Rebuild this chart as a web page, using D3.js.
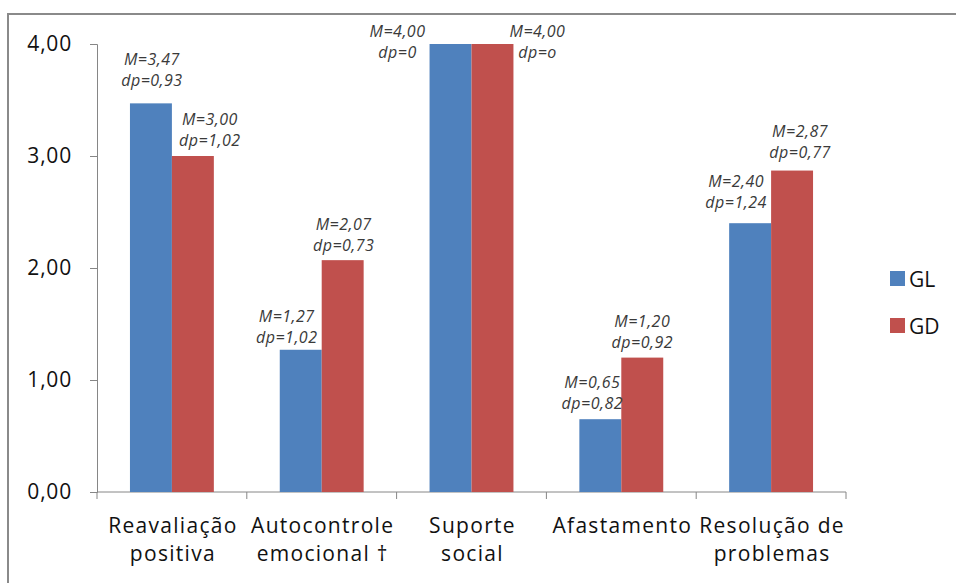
<!DOCTYPE html>
<html>
<head>
<meta charset="utf-8">
<script src="https://cdn.jsdelivr.net/npm/d3@7/dist/d3.min.js"></script>
<style>
  html, body { margin: 0; padding: 0; background: #fff; }
  svg { display: block; }
</style>
</head>
<body>
<svg id="chart" width="956" height="583"></svg>
<script>
// Coping strategy categories (two-line labels)
const categories = [
  ["Reavaliação", "positiva"],
  ["Autocontrole", "emocional †"],
  ["Suporte", "social"],
  ["Afastamento", ""],
  ["Resolução de", "problemas"]
];
const seriesNames = ["GL", "GD"];
const meanGL = [3.47, 1.27, 4.00, 0.65, 2.40];
const meanGD = [3.00, 2.07, 4.00, 1.20, 2.87];
const sdGL = ["0,93", "1,02", "0", "0,82", "1,24"];
const sdGD = ["1,02", "0,73", "o", "0,92", "0,77"];
const yTicks = [0, 1, 2, 3, 4];

// Hand placement of each annotation: offset of its centre from the bar centre,
// and baseline of its lower line relative to the bar top.
const labelDxGL = [1, -14, -53, -8, -14];
const labelDyGL = [-17, -7, 14, -10, -15];
const labelDxGD = [17, 1, 45, 0, 8];
const labelDyGD = [-10, -9, 14, -10, -13];

const colors = { GL: "#4F81BD", GD: "#C0504D" };
const axisColor = "#868686";
const font = "'Open Sans', Lato, sans-serif";

const svg = d3.select("#chart");

// Outer chart frame
svg.append("rect")
  .attr("x", 8).attr("y", 14)
  .attr("width", 960).attr("height", 600)
  .attr("fill", "none")
  .attr("stroke", "#8a8a8a").attr("stroke-width", 2);

const plot = { left: 97, right: 846, top: 44, bottom: 492 };

const x0 = d3.scaleBand()
  .domain(d3.range(categories.length))
  .range([plot.left, plot.right])
  .padding(0);
const bw = x0.bandwidth();
const x1 = d3.scaleBand()
  .domain(seriesNames)
  .range([bw * 0.22, bw * 0.78])
  .padding(0);
const y = d3.scaleLinear().domain([0, 4]).range([plot.bottom, plot.top]);

// Y axis
const yAxis = d3.axisLeft(y)
  .tickValues(yTicks)
  .tickSize(7)
  .tickPadding(18)
  .tickFormat(d => d3.format(".2f")(d).replace(".", ","));
const gy = svg.append("g")
  .attr("transform", `translate(${plot.left},0)`)
  .call(yAxis);
gy.select(".domain").attr("stroke", axisColor);
gy.selectAll(".tick line").attr("stroke", axisColor);
gy.selectAll(".tick text")
  .attr("font-family", font).attr("font-size", 21)
  .attr("letter-spacing", 0.8).attr("fill", "#111");

// X axis: ticks at category boundaries
const boundaries = d3.range(categories.length + 1).map(i => plot.left + i * bw);
const gx = svg.append("g");
gx.append("line")
  .attr("x1", plot.left).attr("x2", plot.right)
  .attr("y1", plot.bottom).attr("y2", plot.bottom)
  .attr("stroke", axisColor);
gx.selectAll("line.tk").data(boundaries).join("line")
  .attr("class", "tk")
  .attr("x1", d => d).attr("x2", d => d)
  .attr("y1", plot.bottom).attr("y2", plot.bottom + 7)
  .attr("stroke", axisColor);

// Category labels
categories.forEach((lines, i) => {
  const cx = x0(i) + bw / 2 + 1;
  const t = svg.append("text")
    .attr("text-anchor", "middle")
    .attr("font-family", font).attr("font-size", 21)
    .attr("letter-spacing", 1.3).attr("fill", "#111");
  t.append("tspan").attr("x", cx).attr("y", 533).text(lines[0]);
  if (lines[1]) t.append("tspan").attr("x", cx).attr("y", 561).text(lines[1]);
});

// Bars
const rows = categories.map((c, i) => ({
  i,
  values: [
    { key: "GL", v: meanGL[i], sd: sdGL[i], dx: labelDxGL[i], dy: labelDyGL[i] },
    { key: "GD", v: meanGD[i], sd: sdGD[i], dx: labelDxGD[i], dy: labelDyGD[i] }
  ]
}));

const groups = svg.append("g").selectAll("g").data(rows).join("g")
  .attr("transform", d => `translate(${x0(d.i)},0)`);

groups.selectAll("rect").data(d => d.values).join("rect")
  .attr("x", d => x1(d.key))
  .attr("width", x1.bandwidth())
  .attr("y", d => y(d.v))
  .attr("height", d => y(0) - y(d.v))
  .attr("fill", d => colors[d.key]);

// Mean / sd annotations
groups.selectAll("text").data(d => d.values).join("text")
  .attr("text-anchor", "middle")
  .attr("font-family", font).attr("font-size", 16).attr("font-style", "italic")
  .attr("letter-spacing", 0.5)
  .attr("fill", "#3a3a3a")
  .each(function(d) {
    const cx = x1(d.key) + x1.bandwidth() / 2 + d.dx;
    const base = y(d.v) + d.dy;
    const t = d3.select(this);
    t.append("tspan").attr("x", cx).attr("y", base - 21)
      .text("M=" + d3.format(".2f")(d.v).replace(".", ","));
    t.append("tspan").attr("x", cx).attr("y", base).text("dp=" + d.sd);
  });

// Legend
const legend = svg.append("g").selectAll("g").data(seriesNames).join("g")
  .attr("transform", (d, i) => `translate(890,${271 + i * 47})`);
legend.append("rect")
  .attr("width", 15).attr("height", 15)
  .attr("fill", d => colors[d]);
legend.append("text")
  .attr("x", 19).attr("y", 15.5)
  .attr("font-family", font).attr("font-size", 21).attr("fill", "#111")
  .text(d => d);
</script>
</body>
</html>
